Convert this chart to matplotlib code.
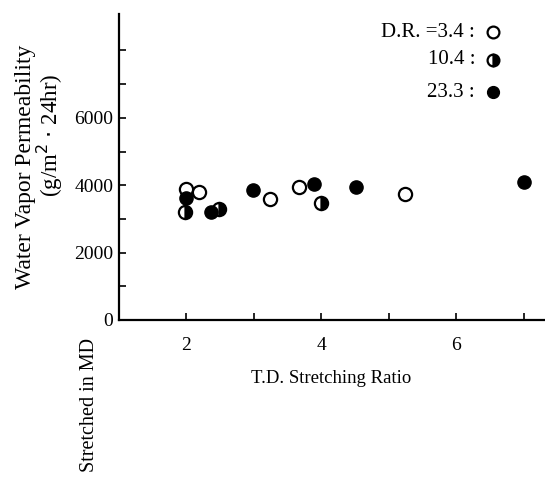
import numpy as np
import matplotlib
matplotlib.use('Agg')
import matplotlib.pyplot as plt

plt.rcParams['font.family'] = ['Liberation Serif', 'DejaVu Serif']

# T.D. stretching ratio vs water vapor permeability, by draw ratio
x_34 = [2.0, 2.18, 3.24, 3.67, 5.24]
y_34 = [3900, 3790, 3590, 3940, 3730]
x_104 = [1.98, 2.48, 4.0]
y_104 = [3210, 3290, 3460]
x_233 = [2.0, 2.36, 2.98, 3.89, 4.51, 7.0]
y_233 = [3610, 3210, 3860, 4030, 3960, 4090]

legend_labels = ['D.R. =3.4 :', '10.4 :', '23.3 :']
xticks = [2, 4, 6]

fig = plt.figure(figsize=(5.45, 4.87), dpi=100)
ax = fig.add_axes([0.2183, 0.343, 0.78, 0.628])

ms = 9.5
ax.plot(x_34, y_34, 'o', ms=ms, mfc='white', mec='black', mew=1.6, zorder=3)
ax.plot(x_104, y_104, 'o', ms=ms, fillstyle='right', mfc='black',
        mfcalt='white', mec='black', mew=1.6, zorder=3)
ax.plot(x_233, y_233, 'o', ms=ms, mfc='black', mec='black', zorder=3)

ax.set_xlim(1, 7.3)
ax.set_ylim(0, 9080)
ax.set_xticks(range(2, 8))
ax.set_xticklabels([str(t) if t in xticks else '' for t in range(2, 8)])
ax.set_yticks(range(0, 9000, 1000))
ax.set_yticklabels(['0', '', '2000', '', '4000', '', '6000', '', ''])
ax.tick_params(direction='in', length=5, width=1.2, labelsize=14)
ax.tick_params(axis='x', pad=12)
ax.tick_params(axis='y', pad=4)
for s in ['top', 'right']:
    ax.spines[s].set_visible(False)
for s in ['left', 'bottom']:
    ax.spines[s].set_linewidth(1.6)

ax.set_xlabel('T.D. Stretching Ratio', fontsize=13.5, labelpad=12)
fig.text(0.046, 0.657, 'Water Vapor Permeability', rotation=90,
         ha='center', va='center', fontsize=17)
fig.text(0.092, 0.723, '(g/m$^{2}$ $\\cdot$ 24hr)', rotation=90,
         ha='center', va='center', fontsize=16.5)
fig.text(0.165, 0.168, 'Stretched in MD', rotation=90,
         ha='center', va='center', fontsize=14.5)

# legend drawn by hand
leg_y = [0.934, 0.877, 0.811]
styles = [dict(mfc='white', mec='black', mew=1.6),
          dict(fillstyle='right', mfc='black', mfcalt='white', mec='black', mew=1.6),
          dict(mfc='black', mec='black')]
for lab, yy, st in zip(legend_labels, leg_y, styles):
    fig.text(0.872, yy, lab, ha='right', va='center', fontsize=15)
    fig.lines.append(plt.Line2D([0.905], [yy], marker='o', ms=8.5,
                                transform=fig.transFigure, **st))

fig.savefig('out.png', dpi=100)
